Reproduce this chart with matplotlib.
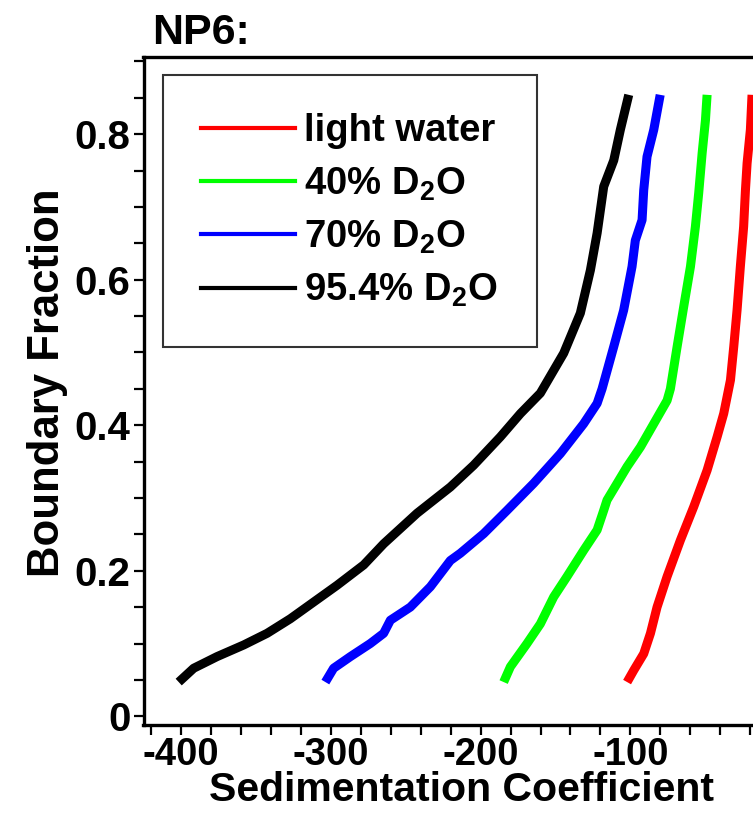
import numpy as np
import matplotlib.pyplot as plt
from matplotlib.lines import Line2D
from matplotlib.ticker import MultipleLocator

plt.rcParams['font.family'] = ['Liberation Sans', 'DejaVu Sans']
plt.rcParams['font.weight'] = 'bold'
plt.rcParams['axes.unicode_minus'] = False
plt.rcParams['mathtext.fontset'] = 'custom'
plt.rcParams['mathtext.bf'] = 'Liberation Sans:bold'
plt.rcParams['mathtext.rm'] = 'Liberation Sans:bold'

# boundary fraction vs sedimentation coefficient
x_light = [-102.2, -97.8, -91.1, -86.6, -82.2, -75.5, -66.6, -57.7, -48.8, -42.1,
           -37.7, -33.2, -31.0, -28.8, -26.6, -24.4, -23.2, -22.1, -19.9, -18.8]
y_light = [0.047, 0.063, 0.086, 0.114, 0.150, 0.192, 0.242, 0.288, 0.338, 0.384,
           0.416, 0.462, 0.508, 0.558, 0.618, 0.673, 0.723, 0.760, 0.806, 0.854]

x_40 = [-184.6, -180.1, -169.0, -160.1, -151.2, -142.3, -131.2, -122.2, -117.8, -115.6,
        -102.2, -93.3, -84.4, -75.5, -73.3, -68.8, -64.4, -59.9, -56.6, -54.4,
        -52.1, -49.9, -48.8]
y_40 = [0.047, 0.068, 0.100, 0.127, 0.164, 0.192, 0.228, 0.256, 0.283, 0.297,
        0.343, 0.370, 0.402, 0.434, 0.450, 0.508, 0.563, 0.618, 0.673, 0.719,
        0.774, 0.819, 0.854]

x_70 = [-303.6, -298.1, -286.9, -273.6, -264.7, -260.2, -246.9, -233.5, -220.2, -213.5,
        -197.9, -182.3, -164.6, -146.7, -131.2, -122.2, -118.9, -111.1, -104.5, -98.9,
        -96.7, -92.2, -91.1, -88.9, -84.4, -80.1]
y_70 = [0.047, 0.066, 0.082, 0.100, 0.114, 0.132, 0.150, 0.178, 0.214, 0.224,
        0.251, 0.283, 0.320, 0.361, 0.402, 0.430, 0.450, 0.508, 0.558, 0.618,
        0.654, 0.682, 0.723, 0.769, 0.806, 0.854]

x_954 = [-401.5, -391.5, -375.9, -358.1, -342.5, -327.0, -311.4, -295.8, -278.0, -264.7,
         -242.4, -220.2, -204.6, -186.8, -173.4, -160.1, -144.5, -133.4, -126.7, -122.2,
         -117.8, -111.1, -106.7, -101.1]
y_954 = [0.047, 0.066, 0.082, 0.098, 0.114, 0.134, 0.157, 0.180, 0.208, 0.237,
         0.279, 0.315, 0.345, 0.384, 0.416, 0.444, 0.499, 0.554, 0.613, 0.664,
         0.728, 0.764, 0.806, 0.854]

labels = ['light water', r'40% D$_\mathbf{2}$O', r'70% D$_\mathbf{2}$O', r'95.4% D$_\mathbf{2}$O']
colors = ['#ff0000', '#00ff00', '#0000ff', '#000000']

xticks = [-400, -300, -200, -100]
xticklabels = ['-400', '-300', '-200', '-100']
yticks = [0, 0.2, 0.4, 0.6, 0.8]
yticklabels = ['0', '0.2', '0.4', '0.6', '0.8']

fig = plt.figure(figsize=(7.53, 8.13), dpi=100)
# axes runs past the right edge: the original picture is cropped there
ax = fig.add_axes([143.5/753, 88/813, 636.7/753, 668/813])

series = [(x_light, y_light), (x_40, y_40), (x_70, y_70), (x_954, y_954)]
for (xs, ys), c in zip(series, colors):
    ax.plot(xs, ys, color=c, lw=6.5, solid_capstyle='butt', solid_joinstyle='round')

ax.set_xlim(-425, 0)
ax.set_ylim(-0.012, 0.906)
ax.set_xticks(xticks)
ax.set_xticklabels(xticklabels)
ax.set_yticks(yticks)
ax.set_yticklabels(yticklabels)
ax.xaxis.set_minor_locator(MultipleLocator(20))
ax.yaxis.set_minor_locator(MultipleLocator(0.05))
ax.tick_params(which='both', direction='out', length=7.2, width=1.6)
ax.tick_params(axis='x', pad=1.5, labelsize=27.5)
ax.tick_params(axis='y', pad=2, labelsize=29)
for s in ax.spines.values():
    s.set_linewidth(2.4)

ax.set_xlabel('Sedimentation Coefficient', fontsize=29.5, fontweight='bold', labelpad=-1.5)
ax.set_ylabel('Boundary Fraction', fontsize=31.5, fontweight='bold')
ax.yaxis.set_label_coords(-0.118, 0.513)

handles = [Line2D([], [], color=c, lw=3) for c in colors]
leg = ax.legend(handles, labels, loc='upper left',
                bbox_to_anchor=(0.0306, 0.973 - 0.404, 0.587, 0.404), mode='expand',
                borderaxespad=0, fontsize=27.5, handlelength=2.45, handletextpad=0.25,
                borderpad=1.0, labelspacing=0.42, fancybox=False, framealpha=1,
                edgecolor='#333333')
leg.get_frame().set_linewidth(1.5)

fig.text(152/753, 1 - 44/813, 'NP6:', fontsize=31, fontweight='bold', va='baseline')

fig.savefig('out.png', dpi=100)
